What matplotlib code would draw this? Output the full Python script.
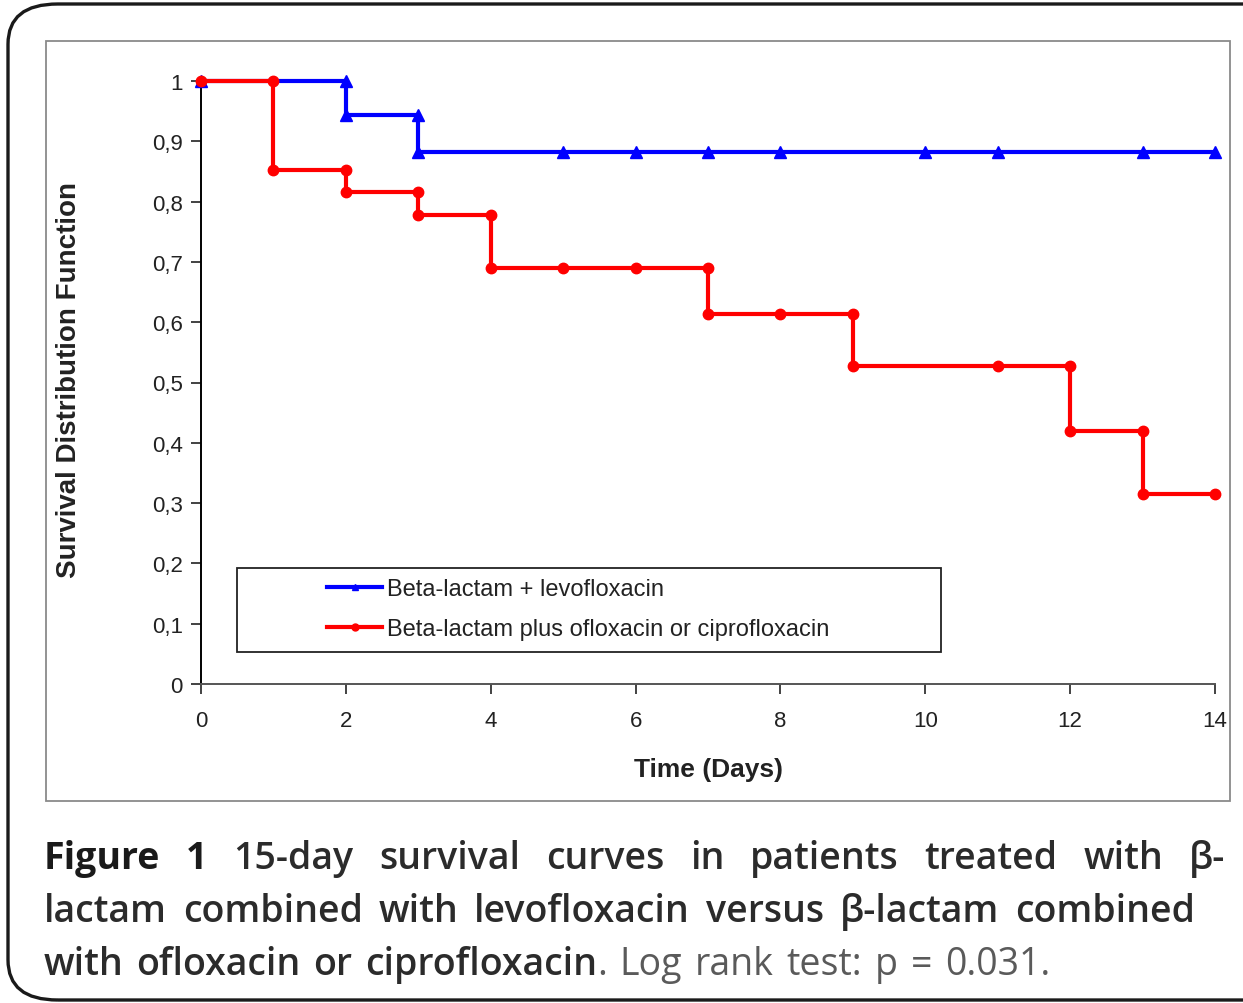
import matplotlib
matplotlib.use('Agg')
import matplotlib.pyplot as plt
from matplotlib.lines import Line2D
from matplotlib.patches import Rectangle, FancyBboxPatch
from matplotlib.transforms import IdentityTransform

# ── data ──
levo_t = [0, 2, 2, 3, 3, 5, 6, 7, 8, 10, 11, 13, 14]
levo_s = [1, 1, 0.944, 0.944, 0.882, 0.882, 0.882, 0.882, 0.882,
          0.882, 0.882, 0.882, 0.882]

oflo_t = [0, 1, 1, 2, 2, 3, 3, 4, 4, 5, 6, 7, 7, 8, 9, 9, 11, 12, 12, 13, 13, 14]
oflo_s = [1, 1, 0.853, 0.853, 0.816, 0.816, 0.778, 0.778, 0.69, 0.69, 0.69,
          0.69, 0.613, 0.613, 0.613, 0.527, 0.527, 0.527, 0.42, 0.42, 0.315, 0.315]

x_ticks = [0, 2, 4, 6, 8, 10, 12, 14]
y_ticks = [0, 0.1, 0.2, 0.3, 0.4, 0.5, 0.6, 0.7, 0.8, 0.9, 1]
y_labels = ['0', '0,1', '0,2', '0,3', '0,4', '0,5', '0,6', '0,7', '0,8', '0,9', '1']

series_names = ['Beta-lactam + levofloxacin',
                'Beta-lactam plus ofloxacin or ciprofloxacin']

W, H = 1243, 1004
plt.rcParams['font.family'] = ['Liberation Sans', 'DejaVu Sans']

fig = plt.figure(figsize=(W / 100, H / 100), dpi=100)
fig.patch.set_facecolor('white')

# outer rounded frame (runs off the right edge)
outer = FancyBboxPatch((8 / W, 1 - 1001 / H), 1300 / W, 996 / H,
                       boxstyle='round,pad=0,rounding_size=0.04',
                       transform=fig.transFigure, fill=False,
                       edgecolor='#1a1a1a', linewidth=2.4, clip_on=False)
fig.patches.append(outer)

# grey chart frame
inner = Rectangle((46 / W, 1 - 802 / H), (1230 - 46) / W, (802 - 42) / H,
                  transform=fig.transFigure, fill=False,
                  edgecolor='#8a8a8a', linewidth=1.3)
fig.patches.append(inner)

ax = fig.add_axes([201 / W, 1 - 685 / H, (1215 - 201) / W, (685 - 82) / H])
ax.set_xlim(0, 14)
ax.set_ylim(0, 1)

ax.plot(levo_t, levo_s, color='#0000ff', linewidth=3, marker='^',
        markersize=8.5, clip_on=False, zorder=3)
ax.plot(oflo_t, oflo_s, color='#ff0000', linewidth=3, marker='o',
        markersize=7.5, clip_on=False, zorder=4)

for side in ['top', 'right']:
    ax.spines[side].set_visible(False)
ax.spines['left'].set_color('black')
ax.spines['left'].set_linewidth(1.4)
ax.spines['bottom'].set_color('#555555')
ax.spines['bottom'].set_linewidth(1.4)

ax.set_xticks(x_ticks)
ax.set_yticks(y_ticks)
ax.set_yticklabels(y_labels)
ax.tick_params(direction='out', length=7, width=1.2, labelsize=16,
               colors='#222222')
ax.tick_params(axis='x', pad=11.5)
ax.tick_params(axis='y', pad=6)

ax.set_ylabel('Survival Distribution Function', fontsize=20,
              fontweight='bold', color='#222222')
ax.yaxis.set_label_coords((82 - 201) / 1014, (685 - 380) / 603)
ax.set_xlabel('Time (Days)', fontsize=19, fontweight='bold',
              color='#222222', labelpad=19)

# legend box
box = Rectangle(((237 - 201) / 1014, (685 - 653) / 603),
                (941 - 237) / 1014, (653 - 569) / 603,
                transform=ax.transAxes, fill=False, edgecolor='#222222',
                linewidth=1.3, zorder=5)
ax.add_patch(box)
handles = [Line2D([], [], color='#0000ff', linewidth=3, marker='^', markersize=5),
           Line2D([], [], color='#ff0000', linewidth=3, marker='o', markersize=5)]
leg = ax.legend(handles, series_names, loc='center left',
                bbox_to_anchor=((327 - 201) / 1014, (685 - 610) / 603),
                frameon=False, fontsize=17, handlelength=2.35,
                handletextpad=0.2, labelspacing=0.76, borderpad=0,
                borderaxespad=0)
for t in leg.get_texts():
    t.set_color('#222222')

# caption: words spread to fill each line, placed in pixel coordinates
fig.canvas.draw()
renderer = fig.canvas.get_renderer()
cap_font = ['Open Sans', 'DejaVu Sans']
cap_size = 27

cap_lines = [
    [('Figure 1', 'bold', '#1a1a1a'),
     (' 15-day survival curves in patients treated with \u03b2-', 'semibold', '#2b2b2b')],
    [('lactam combined with levofloxacin versus \u03b2-lactam combined', 'semibold', '#2b2b2b')],
    [('with ofloxacin or ciprofloxacin', 'semibold', '#2b2b2b'),
     ('. Log rank test: p = 0.031.', 'normal', '#5a5a5a')],
]
cap_baselines = [869, 922, 975]
cap_right = [1225, 1195, 1050]


def split_words(parts):
    words = []
    for s, w, c in parts:
        pieces = s.split(' ')
        for i, p in enumerate(pieces):
            if p == '':
                continue
            if i == 0 and words and not s.startswith(' '):
                words[-1].append((p, w, c))
            else:
                words.append([(p, w, c)])
    return words


def make(s, w, c):
    return fig.text(0, 0, s, transform=IdentityTransform(), fontsize=cap_size,
                    fontweight=w, color=c, family=cap_font,
                    ha='left', va='baseline')


for parts, yb, xr in zip(cap_lines, cap_baselines, cap_right):
    words = split_words(parts)
    objs = [[make(*frag) for frag in word] for word in words]
    widths = [[t.get_window_extent(renderer).width for t in word] for word in objs]
    total = sum(sum(wl) for wl in widths)
    gap = max((xr - 44 - total) / (len(words) - 1), 6)
    x = 44
    for word, wl in zip(objs, widths):
        for t, wd in zip(word, wl):
            t.set_position((x, H - yb))
            x += wd
        x += gap

fig.savefig('out.png', dpi=100, facecolor='white')
